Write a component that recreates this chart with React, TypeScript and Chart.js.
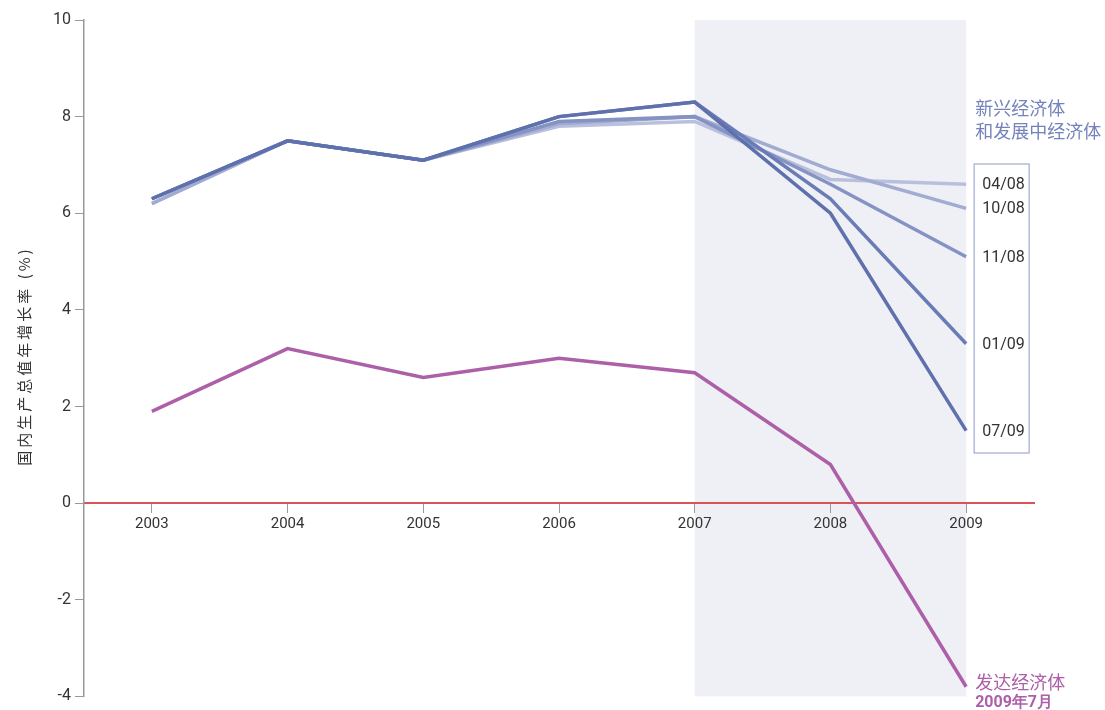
import React, { useEffect, useRef } from "react";
import { Chart, registerables } from "chart.js";

Chart.register(...registerables);

const years = ["2003", "2004", "2005", "2006", "2007", "2008", "2009"];
const yTicks = [-4, -2, 0, 2, 4, 6, 8, 10];

const emergingApr08 = [6.2, 7.5, 7.1, 7.8, 7.9, 6.7, 6.6];
const emergingOct08 = [6.2, 7.5, 7.1, 7.85, 8.0, 6.9, 6.1];
const emergingNov08 = [6.3, 7.5, 7.1, 7.9, 8.0, 6.6, 5.1];
const emergingJan09 = [6.3, 7.5, 7.1, 8.0, 8.3, 6.3, 3.3];
const emergingJul09 = [6.3, 7.5, 7.1, 8.0, 8.3, 6.0, 1.5];
const advancedJul09 = [1.9, 3.2, 2.6, 3.0, 2.7, 0.8, -3.8];

const vintageLabels = ["04/08", "10/08", "11/08", "01/09", "07/09"];
const emergingTitle = ["新兴经济体", "和发展中经济体"];
const advancedTitle = ["发达经济体", "2009年7月"];
const yTitle = "国内生产总值年增长率 (%)";

const NUM_FONT = "'Liberation Sans Narrow', 'Roboto', sans-serif";
const CJK_FONT = "'Noto Sans CJK SC', sans-serif";

export default function App() {
  const ref = useRef<HTMLCanvasElement | null>(null);

  useEffect(() => {
    document.body.style.margin = "0";
    const canvas = ref.current!;
    const series = [
      { label: "07/09", data: emergingJul09, color: "#5e71ac", order: 1 },
      { label: "01/09", data: emergingJan09, color: "#6a7cb5", order: 2 },
      { label: "11/08", data: emergingNov08, color: "#8593c3", order: 3 },
      { label: "10/08", data: emergingOct08, color: "#a2abd1", order: 4 },
      { label: "04/08", data: emergingApr08, color: "#b9c0dd", order: 5 },
      { label: "发达经济体", data: advancedJul09, color: "#ad5fa8", order: 0 },
    ];

    const bandPlugin = {
      id: "band",
      beforeDraw(chart: any) {
        const { ctx, chartArea, scales } = chart;
        const x0 = scales.x.getPixelForValue(4);
        const x1 = scales.x.getPixelForValue(6);
        ctx.save();
        ctx.fillStyle = "#eef0f6";
        ctx.fillRect(x0, chartArea.top, x1 - x0, chartArea.bottom - chartArea.top);
        ctx.restore();
      },
    };

    const labelPlugin = {
      id: "labels",
      afterDraw(chart: any) {
        const { ctx, scales } = chart;
        const xEnd = scales.x.getPixelForValue(6);
        ctx.save();
        // y axis title
        ctx.translate(24, 356);
        ctx.rotate(-Math.PI / 2);
        ctx.fillStyle = "#333";
        ctx.font = `15px ${CJK_FONT}`;
        (ctx as any).letterSpacing = "3px";
        ctx.textAlign = "center";
        ctx.textBaseline = "middle";
        ctx.fillText(yTitle, 0, 0);
        ctx.restore();

        ctx.save();
        ctx.textAlign = "left";
        ctx.textBaseline = "middle";
        ctx.font = `18px ${CJK_FONT}`;
        ctx.fillStyle = "#7483bb";
        ctx.fillText(emergingTitle[0], xEnd + 9, 108);
        ctx.fillText(emergingTitle[1], xEnd + 9, 131);

        ctx.fillStyle = "#ad5fa8";
        ctx.fillText(advancedTitle[0], xEnd + 9, 682);
        ctx.font = `bold 16px ${NUM_FONT}`;
        ctx.fillText(advancedTitle[1], xEnd + 9, 703);

        // vintage box
        ctx.strokeStyle = "#a2abd1";
        ctx.lineWidth = 1.2;
        ctx.strokeRect(xEnd + 8, 164, 55, 289);
        ctx.fillStyle = "#333";
        ctx.font = `16px ${NUM_FONT}`;
        const labelYs = [185, 209, 258, 345, 432];
        vintageLabels.forEach((l, i) => {
          ctx.fillText(l, xEnd + 16, labelYs[i]);
        });
        ctx.restore();
      },
    };

    const chart = new Chart(canvas, {
      type: "line",
      data: {
        labels: years,
        datasets: series.map((s) => ({
          label: s.label,
          data: s.data,
          borderColor: s.color,
          backgroundColor: s.color,
          borderWidth: 3.5,
          pointRadius: 0,
          tension: 0,
          fill: false,
          order: s.order,
          borderCapStyle: "butt",
          borderJoinStyle: "miter",
        })),
      },
      options: {
        animation: false,
        responsive: false,
        maintainAspectRatio: false,
        layout: { padding: { left: 0, right: 71, top: 20, bottom: 13 } },
        plugins: { legend: { display: false }, tooltip: { enabled: false } },
        scales: {
          x: {
            type: "category",
            offset: true,
            position: { y: 0 } as any,
            grid: {
              display: true,
              drawOnChartArea: false,
              drawTicks: true,
              tickLength: 9,
              color: "#999",
              offset: false,
            },
            border: { display: true, color: "#d9535b", width: 2 },
            ticks: {
              color: "#333",
              font: { family: NUM_FONT, size: 15 },
              padding: 3,
              maxRotation: 0,
            },
          },
          y: {
            min: -4,
            max: 10,
            afterFit(scale: any) {
              scale.width = 84;
            },
            afterBuildTicks(scale: any) {
              scale.ticks = yTicks.map((v) => ({ value: v }));
            },
            grid: {
              display: true,
              drawOnChartArea: false,
              tickLength: 9,
              color: "#999",
            },
            border: { display: true, color: "#999", width: 1.5 },
            ticks: {
              color: "#333",
              font: { family: NUM_FONT, size: 16 },
              padding: 4,
            },
          },
        },
      },
      plugins: [bandPlugin, labelPlugin],
    });
    return () => chart.destroy();
  }, []);

  return (
    <div style={{ width: 1105, height: 710 }}>
      <canvas ref={ref} width={1105} height={710} style={{ display: "block" }} />
    </div>
  );
}
